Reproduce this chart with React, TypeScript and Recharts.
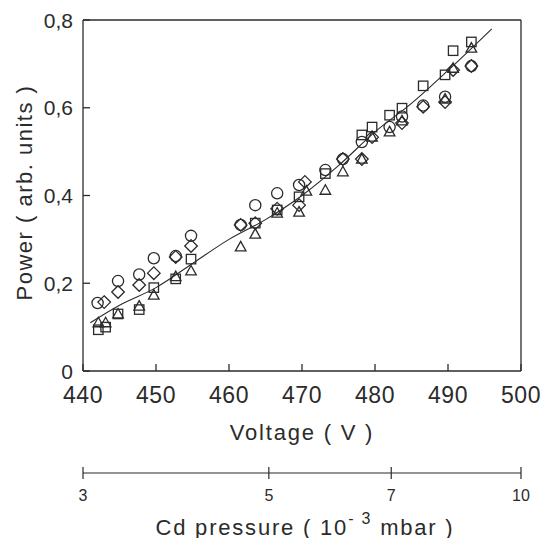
import { ComposedChart, Scatter, Line, XAxis, YAxis, ZAxis, Label, CartesianGrid } from 'recharts';

// circles
const circleV = [442.0, 444.8, 447.7, 449.7, 452.7, 454.8, 461.6, 463.6, 466.6, 469.6, 473.2, 475.6, 478.2, 482.0, 483.7, 486.6, 489.6, 493.2];
const circleP = [0.155, 0.205, 0.22, 0.257, 0.262, 0.308, 0.333, 0.378, 0.405, 0.424, 0.458, 0.483, 0.522, 0.556, 0.58, 0.605, 0.625, 0.695];

// diamonds
const diamondV = [442.9, 444.8, 447.7, 449.7, 452.7, 454.8, 461.6, 463.6, 466.6, 469.6, 470.4, 475.6, 478.2, 479.6, 483.7, 486.6, 489.6, 490.7, 493.2];
const diamondP = [0.157, 0.18, 0.196, 0.223, 0.26, 0.285, 0.333, 0.337, 0.37, 0.378, 0.431, 0.483, 0.483, 0.533, 0.565, 0.602, 0.613, 0.686, 0.695];

// squares
const squareV = [442.1, 443.1, 444.8, 447.7, 449.7, 452.7, 454.8, 463.6, 466.6, 469.6, 473.2, 478.2, 479.6, 482.0, 483.7, 486.6, 489.6, 490.7, 493.2];
const squareP = [0.094, 0.1, 0.13, 0.14, 0.19, 0.21, 0.255, 0.337, 0.367, 0.397, 0.45, 0.538, 0.556, 0.583, 0.599, 0.65, 0.675, 0.73, 0.75];

// triangles
const triV = [442.1, 443.1, 444.8, 447.7, 449.7, 452.7, 454.8, 461.6, 463.6, 466.6, 469.6, 470.6, 473.2, 475.6, 478.2, 479.6, 482.0, 483.7, 489.6, 490.7, 493.2];
const triP = [0.11, 0.11, 0.13, 0.148, 0.173, 0.215, 0.228, 0.283, 0.312, 0.36, 0.362, 0.41, 0.412, 0.454, 0.483, 0.533, 0.545, 0.57, 0.62, 0.69, 0.736];

// fitted curve
const fitV = [441, 445, 450, 455, 460, 465, 470, 475, 480, 485, 490, 496];
const fitP = [0.11, 0.15, 0.19, 0.245, 0.3, 0.345, 0.4, 0.468, 0.545, 0.61, 0.685, 0.78];

const voltTicks = [440, 450, 460, 470, 480, 490, 500];
const powerTicks = [0, 0.2, 0.4, 0.6, 0.8];
const pressTicks = [3, 5, 7, 10];

const zip = (v: number[], p: number[]) => v.map((x, i) => ({ v: x, p: p[i] }));

const INK = '#2b2b2b';
const FONT = 'Liberation Sans';

const marker = (kind: string) => (props: any) => {
  const { cx, cy } = props;
  if (cx == null || cy == null) return <g />;
  const common = { fill: 'none', stroke: INK, strokeWidth: 1.3 };
  if (kind === 'circle') return <circle cx={cx} cy={cy} r={5.6} {...common} />;
  if (kind === 'square') return <rect x={cx - 4.7} y={cy - 4.7} width={9.4} height={9.4} {...common} />;
  if (kind === 'diamond')
    return <path d={`M${cx},${cy - 6.3}L${cx + 6.3},${cy}L${cx},${cy + 6.3}L${cx - 6.3},${cy}Z`} {...common} />;
  return <path d={`M${cx},${cy - 5.5}L${cx + 5.3},${cy + 4}L${cx - 5.3},${cy + 4}Z`} {...common} />;
};

const fmtPower = (v: number) => (v === 0 ? '0' : v.toFixed(1).replace('.', ','));

const voltTick = (props: any) => (
  <text x={props.x} y={props.y + 24} textAnchor="middle" dominantBaseline="central" fontFamily={FONT} fontSize={23} fill={INK} letterSpacing={0.5}>
    {props.payload.value}
  </text>
);

const powerTick = (props: any) => (
  <text x={props.x - 10} y={props.y} textAnchor="end" dominantBaseline="central" fontFamily={FONT} fontSize={21} fill={INK}>
    {fmtPower(props.payload.value)}
  </text>
);

const pressTick = (props: any) => {
  const { x, y, payload } = props;
  return (
    <g>
      <line x1={x} x2={x} y1={y - 6} y2={y + 6} stroke={INK} strokeWidth={1.2} />
      <text x={x} y={y + 22} textAnchor="middle" dominantBaseline="central" fontFamily={FONT} fontSize={16} fill={INK}>
        {payload.value}
      </text>
    </g>
  );
};

// short inward tick marks, drawn by the grid at the axis tick positions
const vTickMark = (p: any) => {
  const yb = Math.max(p.y1, p.y2);
  return <line key={p.key} x1={p.x1} x2={p.x1} y1={yb - 7} y2={yb} stroke={INK} strokeWidth={1.3} />;
};
const hTickMark = (p: any) => {
  const xl = Math.min(p.x1, p.x2);
  return <line key={p.key} x1={xl} x2={xl + 7} y1={p.y1} y2={p.y1} stroke={INK} strokeWidth={1.3} />;
};

const yLabel = (props: any) => {
  const { x, y, height } = props.viewBox;
  const cx = x + 24;
  const cy = y + height / 2 - 3;
  return (
    <text x={cx} y={cy} transform={`rotate(-90, ${cx}, ${cy})`} textAnchor="middle" dominantBaseline="central"
      fontFamily={FONT} fontSize={22} fill={INK} letterSpacing={1.5}>
      Power ( arb. units )
    </text>
  );
};

const xLabel = (props: any) => {
  const { x, y, width } = props.viewBox;
  return (
    <text x={x + width / 2} y={y + 61} textAnchor="middle" dominantBaseline="central"
      fontFamily={FONT} fontSize={22} fill={INK} letterSpacing={1.8}>
      Voltage ( V )
    </text>
  );
};

const pLabel = (props: any) => {
  const { x, y, width } = props.viewBox;
  return (
    <text x={x + width / 2 + 3} y={y + 54} textAnchor="middle" dominantBaseline="central" fontFamily={FONT} fontSize={22} fill={INK} letterSpacing={1.8}>
      <tspan>Cd pressure ( 10</tspan>
      <tspan dy={-9} fontSize={16}>- 3</tspan>
      <tspan dy={9}> mbar )</tspan>
    </text>
  );
};

// only the frame of the plot, no inner grid
const frameH = (p: any) => [p.offset.top, p.offset.top + p.offset.height];
const frameV = (p: any) => [p.offset.left, p.offset.left + p.offset.width];

export default function App() {
  return (
    <div style={{ position: 'absolute', left: 0, top: 0, width: 545, height: 538, background: '#fff' }}>
      <ComposedChart width={545} height={538} margin={{ top: 20, right: 24, left: 0, bottom: 0 }}>
        <CartesianGrid stroke={INK} strokeWidth={1.3} horizontalCoordinatesGenerator={frameH} verticalCoordinatesGenerator={frameV} />
        <CartesianGrid stroke={INK} vertical={vTickMark} horizontal={hTickMark} />
        <XAxis
          dataKey="v"
          type="number"
          domain={[440, 500]}
          ticks={voltTicks}
          interval={0}
          height={102}
          tickSize={0}
          tickMargin={0}
          tickLine={false}
          axisLine={false}
          tick={voltTick}
        >
          <Label content={xLabel} />
        </XAxis>
        <XAxis
          xAxisId="p"
          dataKey="v"
          type="number"
          scale="log"
          domain={[3, 10]}
          allowDataOverflow
          ticks={pressTicks}
          interval={0}
          height={65}
          tickSize={0}
          tickMargin={0}
          tickLine={false}
          axisLine={{ stroke: INK, strokeWidth: 1.2 }}
          tick={pressTick}
        >
          <Label content={pLabel} />
        </XAxis>
        <YAxis
          dataKey="p"
          type="number"
          domain={[0, 0.8]}
          ticks={powerTicks}
          interval={0}
          width={83}
          tickSize={0}
          tickMargin={0}
          tickLine={false}
          axisLine={false}
          tick={powerTick}
        >
          <Label content={yLabel} />
        </YAxis>
        <ZAxis range={[90, 90]} />
        <Line data={zip(fitV, fitP)} dataKey="p" type="monotone" stroke={INK} strokeWidth={1.1} dot={false} isAnimationActive={false} />
        <Scatter data={zip(circleV, circleP)} shape={marker('circle')} isAnimationActive={false} />
        <Scatter data={zip(diamondV, diamondP)} shape={marker('diamond')} isAnimationActive={false} />
        <Scatter data={zip(squareV, squareP)} shape={marker('square')} isAnimationActive={false} />
        <Scatter data={zip(triV, triP)} shape={marker('triangle')} isAnimationActive={false} />
      </ComposedChart>
    </div>
  );
}
